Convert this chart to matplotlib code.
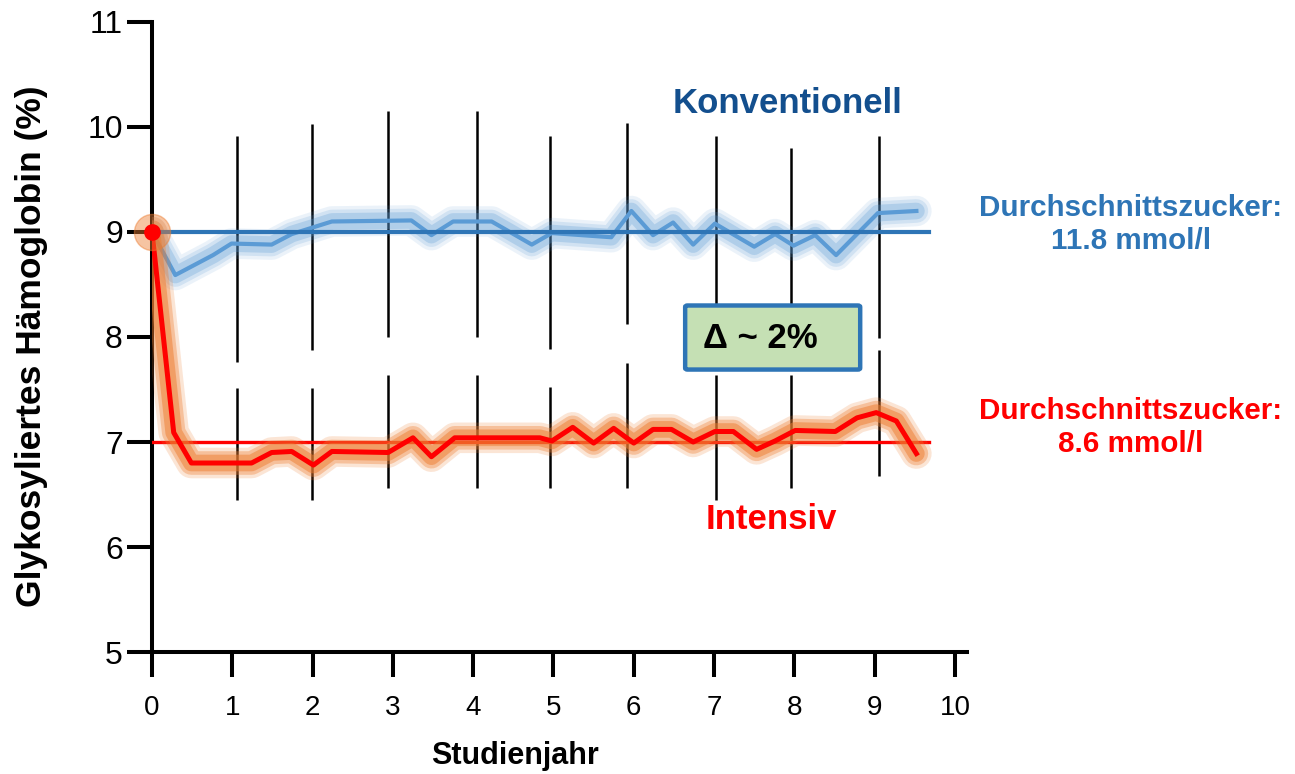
import matplotlib
matplotlib.use("Agg")
import matplotlib.pyplot as plt
from matplotlib.patches import FancyBboxPatch

plt.rcParams['font.family'] = ['Liberation Sans', 'DejaVu Sans']

# conventional therapy (HbA1c %)
conv_x = [0, 0.29, 0.76, 0.99, 1.49, 1.74, 2.24, 3.23, 3.48, 3.75, 4.23, 4.73, 4.98,
          5.72, 5.97, 6.24, 6.49, 6.74, 7.01, 7.50, 7.76, 7.99, 8.26, 8.52, 9.04, 9.52]
conv_y = [9.0, 8.59, 8.78, 8.89, 8.88, 8.98, 9.10, 9.11, 8.97, 9.10, 9.10, 8.88, 8.99,
          8.95, 9.20, 8.97, 9.09, 8.88, 9.08, 8.86, 8.98, 8.87, 8.97, 8.78, 9.18, 9.20]

# intensive therapy (HbA1c %)
int_x = [0, 0.27, 0.49, 1.24, 1.49, 1.74, 2.01, 2.24, 2.94, 3.25, 3.48, 3.77, 4.83, 4.98,
         5.24, 5.50, 5.75, 6.00, 6.24, 6.47, 6.74, 7.01, 7.24, 7.53, 7.76, 8.01, 8.51,
         8.78, 9.02, 9.27, 9.52]
int_y = [9.0, 7.09, 6.80, 6.80, 6.90, 6.91, 6.78, 6.91, 6.90, 7.04, 6.86, 7.04, 7.04, 7.01,
         7.14, 6.99, 7.13, 6.99, 7.12, 7.12, 7.00, 7.10, 7.10, 6.93, 7.01, 7.11, 7.10,
         7.23, 7.28, 7.20, 6.89]

conv_mean = 9.0
int_mean = 7.0
mean_end = 9.68

# yearly spread bars (upper group / lower group)
bar_x = [1.06, 1.99, 2.94, 4.05, 4.96, 5.92, 7.02, 7.96, 9.05]
upper_top = [9.91, 10.03, 10.15, 10.15, 9.91, 10.04, 9.91, 9.80, 9.91]
upper_bot = [7.76, 7.88, 8.00, 8.00, 7.89, 8.12, 7.92, 7.92, 7.99]
lower_top = [7.51, 7.51, 7.64, 7.64, 7.52, 7.75, 7.64, 7.64, 7.88]
lower_bot = [6.45, 6.45, 6.56, 6.56, 6.56, 6.56, 6.45, 6.56, 6.68]

x_ticks = list(range(0, 11))
y_ticks = list(range(5, 12))

fig = plt.figure(figsize=(12.95, 7.74), dpi=100)
ax = fig.add_axes([0.1174, 0.1576, 0.6293, 0.8140])

# spread bars
ax.vlines(bar_x, upper_bot, upper_top, color='black', lw=1.8, zorder=2)
ax.vlines(bar_x, lower_bot, lower_top, color='black', lw=1.8, zorder=2)

# conventional: glow, line, mean
for lw, a in [(22, 0.12), (17, 0.18), (12, 0.28)]:
    ax.plot(conv_x, conv_y, color='#5b9bd5', lw=lw, alpha=a,
            solid_capstyle='round', solid_joinstyle='round', zorder=3)
ax.plot(conv_x, conv_y, color='#5b9bd5', lw=3, solid_joinstyle='round', zorder=4)
ax.plot([0, mean_end], [conv_mean, conv_mean], color='#2e75b6', lw=3, zorder=5)

# intensive: mean, glow, line
ax.plot([0, mean_end], [int_mean, int_mean], color='#ff0000', lw=2.4, zorder=3)
for lw, a in [(22, 0.2), (17, 0.35), (12, 0.5)]:
    ax.plot(int_x, int_y, color='#ed7d31', lw=lw, alpha=a,
            solid_capstyle='round', solid_joinstyle='round', zorder=4)
ax.plot(int_x, int_y, color='#ff0000', lw=3.6, solid_joinstyle='round', zorder=6)

# start point
ax.plot([0], [9.0], 'o', color='#ed7d31', ms=26, alpha=0.45, zorder=6, clip_on=False)
ax.plot([0], [9.0], 'o', color='#ff0000', ms=11, zorder=7, clip_on=False)

# delta box
box = FancyBboxPatch((6.64, 7.69), 2.18, 0.61, boxstyle='round,pad=0,rounding_size=0.03',
                     facecolor='#c5e0b4', edgecolor='#2e75b6', lw=3.2, zorder=8,
                     mutation_aspect=0.5)
ax.add_patch(box)
ax.text(6.86, 7.985, 'Δ ~ 2%', fontsize=25, fontweight='bold', color='black',
        ha='left', va='center', zorder=9)

# labels in the plot
ax.text(7.92, 10.22, 'Konventionell', fontsize=25, fontweight='bold',
        color='#134f8e', ha='center', va='center')
ax.text(7.71, 6.26, 'Intensiv', fontsize=25, fontweight='bold',
        color='#ff0000', ha='center', va='center')
ax.text(12.19, 9.07, 'Durchschnittszucker:\n11.8 mmol/l', fontsize=21.3, fontweight='bold',
        color='#2e75b6', ha='center', va='center', multialignment='center',
        linespacing=1.2, clip_on=False)
ax.text(12.19, 7.14, 'Durchschnittszucker:\n8.6 mmol/l', fontsize=21.3, fontweight='bold',
        color='#ff0000', ha='center', va='center', multialignment='center',
        linespacing=1.2, clip_on=False)

ax.set_xlim(0, 10.15)
ax.set_ylim(5, 11)
ax.set_xticks(x_ticks)
ax.set_yticks(y_ticks)
ax.tick_params(axis='x', length=18, width=2.9, direction='out', labelsize=20, pad=13)
ax.tick_params(axis='y', length=18, width=2.9, direction='out', labelsize=23, pad=3)
for s in ['top', 'right']:
    ax.spines[s].set_visible(False)
for s in ['left', 'bottom']:
    ax.spines[s].set_linewidth(2.9)

ax.set_ylabel('Glykosyliertes Hämoglobin (%)', fontsize=25.5, fontweight='bold')
ax.yaxis.set_label_coords(-0.128, 0.486)
ax.set_xlabel('Studienjahr', fontsize=22, fontweight='bold')
ax.xaxis.set_label_coords(0.445, -0.142)

fig.savefig('out.png', dpi=100)
